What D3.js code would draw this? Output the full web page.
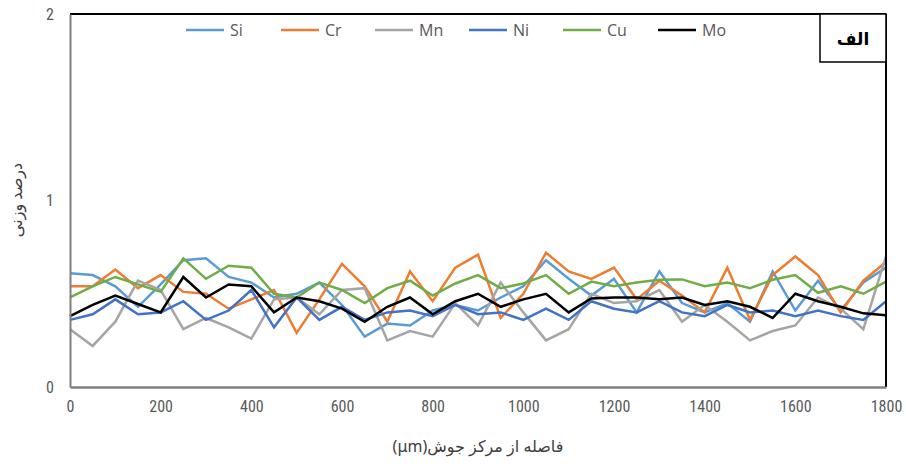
<!DOCTYPE html>
<html><head><meta charset="utf-8">
<script src="https://cdn.jsdelivr.net/npm/d3@7"></script>
<style>
body{margin:0;background:#fff;}
svg{display:block;}
.tick text{font-family:"Liberation Sans Narrow","Roboto Condensed","Open Sans",sans-serif;font-size:16px;fill:#595959;}
</style></head>
<body><svg id="c" width="906" height="464"></svg>
<script>
const distances = d3.range(0, 1801, 50);
const xTicks = [0,200,400,600,800,1000,1200,1400,1600,1800];
const yTicks = [0,1,2];
const seriesNames = ["Si","Cr","Mn","Ni","Cu","Mo"];
const seriesColors = ["#5B9BD5","#ED7D31","#A5A5A5","#4472C4","#70AD47","#000000"];
const Si = [0.61,0.60,0.54,0.43,0.55,0.68,0.69,0.59,0.56,0.48,0.50,0.56,0.44,0.27,0.34,0.33,0.41,0.44,0.41,0.48,0.54,0.68,0.58,0.49,0.58,0.40,0.62,0.45,0.40,0.45,0.35,0.62,0.41,0.57,0.41,0.56,0.64];
const Cr = [0.54,0.54,0.63,0.53,0.60,0.51,0.50,0.42,0.47,0.52,0.29,0.47,0.66,0.54,0.35,0.62,0.46,0.64,0.71,0.37,0.50,0.72,0.62,0.58,0.64,0.47,0.57,0.49,0.40,0.64,0.36,0.60,0.70,0.60,0.40,0.57,0.67];
const Mn = [0.31,0.22,0.35,0.57,0.52,0.31,0.37,0.32,0.26,0.47,0.48,0.39,0.52,0.53,0.25,0.30,0.27,0.45,0.33,0.56,0.40,0.25,0.31,0.50,0.45,0.46,0.52,0.35,0.44,0.35,0.25,0.30,0.33,0.48,0.42,0.31,0.70];
const Ni = [0.36,0.39,0.47,0.39,0.40,0.46,0.36,0.41,0.52,0.32,0.48,0.36,0.43,0.36,0.40,0.41,0.38,0.44,0.39,0.40,0.36,0.42,0.36,0.46,0.42,0.40,0.46,0.40,0.38,0.44,0.40,0.41,0.38,0.41,0.38,0.36,0.46];
const Cu = [0.48,0.54,0.59,0.55,0.51,0.69,0.58,0.65,0.64,0.50,0.48,0.56,0.52,0.45,0.53,0.57,0.49,0.555,0.60,0.53,0.555,0.60,0.50,0.565,0.54,0.56,0.575,0.577,0.54,0.56,0.53,0.575,0.60,0.505,0.54,0.50,0.565];
const Mo = [0.38,0.44,0.49,0.445,0.40,0.59,0.48,0.55,0.54,0.40,0.48,0.46,0.42,0.35,0.43,0.48,0.39,0.46,0.50,0.43,0.47,0.50,0.40,0.475,0.48,0.48,0.47,0.48,0.44,0.46,0.43,0.37,0.50,0.46,0.43,0.395,0.385];
const allSeries = [Si,Cr,Mn,Ni,Cu,Mo];

const svg = d3.select("#c");
const L=70, R=886, T=14, B=387;
const x = d3.scaleLinear().domain([0,1800]).range([L,R]);
const y = d3.scaleLinear().domain([0,2]).range([B,T]);

const line = d3.line().x((d,i)=>x(distances[i])).y(d=>y(d));
allSeries.forEach((s,k)=>{
  svg.append("path").datum(s).attr("d",line)
    .attr("fill","none").attr("stroke",seriesColors[k])
    .attr("stroke-width",2.5).attr("stroke-linejoin","miter");
});

svg.append("line").attr("x1",L).attr("x2",R).attr("y1",T).attr("y2",T).attr("stroke","#000").attr("stroke-width",2);
svg.append("line").attr("x1",R).attr("x2",R).attr("y1",T).attr("y2",B).attr("stroke","#000").attr("stroke-width",2);

const xAxis = svg.append("g").attr("transform",`translate(0,${B})`)
  .call(d3.axisBottom(x).tickValues(xTicks).tickSize(0).tickPadding(14).tickFormat(d3.format("d")));
xAxis.select(".domain").attr("stroke","#7f7f7f").attr("stroke-width",2.5);
const yAxis = svg.append("g").attr("transform",`translate(${L},0)`)
  .call(d3.axisLeft(y).tickValues(yTicks).tickSize(0).tickPadding(16).tickFormat(d3.format("d")));
yAxis.select(".domain").attr("stroke","#7f7f7f").attr("stroke-width",2);

svg.append("rect").attr("x",820).attr("y",T).attr("width",R-820).attr("height",48)
  .attr("fill","#fff").attr("stroke","#000").attr("stroke-width",1.5);
svg.append("text").attr("x",853).attr("y",45).attr("text-anchor","middle")
  .attr("font-family","'Noto Sans','DejaVu Sans',sans-serif").attr("font-weight","bold")
  .attr("font-size",17).attr("fill","#000").text("الف");

const legX = [186,281,375,469,563,658];
seriesNames.forEach((n,k)=>{
  svg.append("line").attr("x1",legX[k]).attr("x2",legX[k]+38).attr("y1",30).attr("y2",30)
    .attr("stroke",seriesColors[k]).attr("stroke-width",2.5);
  svg.append("text").attr("x",legX[k]+44).attr("y",36)
    .attr("font-family","'Liberation Sans Narrow','Open Sans',sans-serif").attr("font-size",16)
    .attr("fill","#595959").text(n);
});

svg.append("text").attr("x",478).attr("y",452).attr("text-anchor","middle")
  .attr("direction","rtl")
  .attr("font-family","'Noto Sans','DejaVu Sans',sans-serif").attr("font-size",16)
  .attr("fill","#404040").text("فاصله از مرکز جوش(μm)");
svg.append("text").attr("transform","translate(22,200) rotate(-90)").attr("text-anchor","middle")
  .attr("direction","rtl")
  .attr("font-family","'Noto Sans','DejaVu Sans',sans-serif").attr("font-size",16)
  .attr("fill","#404040").text("درصد وزنی");
</script></body></html>
